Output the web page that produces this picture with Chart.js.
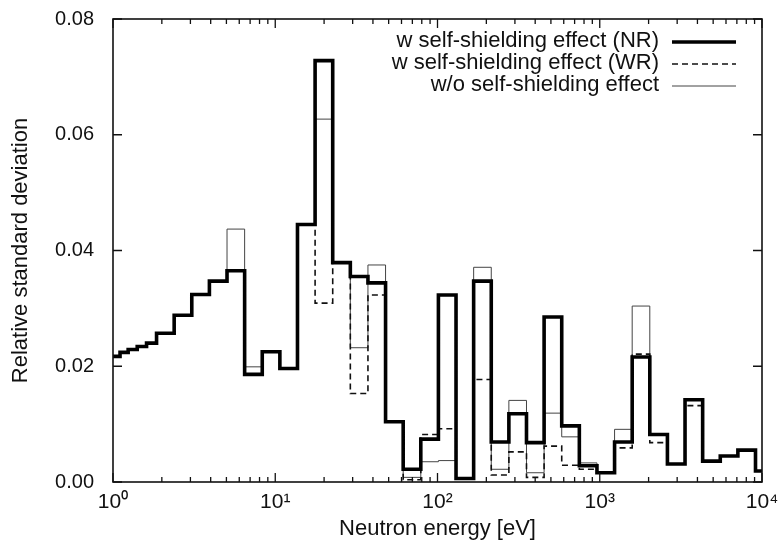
<!DOCTYPE html>
<html>
<head>
<meta charset="utf-8">
<script src="https://cdn.jsdelivr.net/npm/chart.js@4.4.1/dist/chart.umd.min.js"></script>
<style>
  html, body { margin: 0; padding: 0; background: #fff; }
  #wrap { position: relative; width: 778px; height: 549px; }
</style>
</head>
<body>
<div id="wrap"><canvas id="c"></canvas></div>
<script>
// Group boundaries (eV): left edge of each bin, plus the final right edge
const energyEdges = [1.0, 1.105, 1.24, 1.41, 1.61, 1.8554, 2.3824, 3.059, 3.9279, 5.0435,
  6.476, 8.3153, 10.677, 13.71, 17.603, 22.603, 29.023, 37.267, 47.851, 61.442,
  78.893, 101.3, 130.07, 167.02, 214.45, 275.36, 353.58, 454.0, 582.95, 748.52,
  961.12, 1234.1, 1584.6, 2034.7, 2612.6, 3354.6, 4307.4, 5530.8, 7101.7, 9118.8, 10000];

// Relative standard deviation per bin
const nrValues = [0.0217, 0.0224, 0.0229, 0.0234, 0.0240, 0.0257, 0.0288, 0.0324, 0.0347, 0.0365,
  0.0186, 0.0225, 0.0196, 0.0445, 0.0728, 0.0379, 0.0355, 0.0344, 0.0104, 0.0022,
  0.0074, 0.0323, 0.0006, 0.0347, 0.0069, 0.0118, 0.0068, 0.0285, 0.0097, 0.0028,
  0.0016, 0.0069, 0.0216, 0.0082, 0.0031, 0.0142, 0.0036, 0.0045, 0.0055, 0.0019];
const wrValues = [0.0217, 0.0224, 0.0229, 0.0234, 0.0240, 0.0257, 0.0288, 0.0324, 0.0347, 0.0365,
  0.0186, 0.0225, 0.0196, 0.0445, 0.0309, 0.0379, 0.0153, 0.0323, 0.0104, 0.0004,
  0.0082, 0.0092, 0.0005, 0.0177, 0.0012, 0.0052, 0.0008, 0.0062, 0.0029, 0.0022,
  0.0016, 0.0059, 0.0221, 0.0068, 0.0031, 0.0132, 0.0035, 0.0045, 0.0055, 0.0019];
const woValues = [0.0217, 0.0224, 0.0229, 0.0234, 0.0240, 0.0257, 0.0288, 0.0324, 0.0347, 0.0437,
  0.0199, 0.0225, 0.0196, 0.0445, 0.0627, 0.0379, 0.0232, 0.0375, 0.0104, 0.0008,
  0.0035, 0.0037, 0.0006, 0.0371, 0.0022, 0.0141, 0.0016, 0.0119, 0.0078, 0.0033,
  0.0016, 0.0091, 0.0304, 0.0082, 0.0031, 0.0144, 0.0036, 0.0045, 0.0055, 0.0019];

const seriesLabels = ['w self-shielding effect (NR)', 'w self-shielding effect (WR)', 'w/o self-shielding effect'];
const xTickValues = [1, 10, 100, 1000, 10000];
const yTickValues = [0, 0.02, 0.04, 0.06, 0.08];

const FONT = '"Liberation Sans", Arial, Helvetica, sans-serif';
const INK = '#111';

function toSteps(vals) {
  return energyEdges.map((e, i) => ({ x: e, y: vals[Math.min(i, vals.length - 1)] }));
}

const sup = ['\u2070', '\u00B9', '\u00B2', '\u00B3', '\u2074'];

const framePlugin = {
  id: 'frame',
  afterDatasetsDraw(chart) {
    const { ctx, chartArea: a, scales } = chart;
    const xs = scales.x, ys = scales.y;
    ctx.save();
    ctx.strokeStyle = INK;
    ctx.lineWidth = 1.6;
    ctx.strokeRect(a.left, a.top, a.right - a.left, a.bottom - a.top);
    ctx.lineWidth = 1.3;
    ctx.beginPath();
    for (let d = 0; d < xTickValues.length; d++) {
      const base = xTickValues[d];
      const px = xs.getPixelForValue(base);
      ctx.moveTo(px, a.bottom); ctx.lineTo(px, a.bottom - 9);
      ctx.moveTo(px, a.top); ctx.lineTo(px, a.top + 9);
      if (d < xTickValues.length - 1) {
        for (let m = 2; m <= 9; m++) {
          const p = xs.getPixelForValue(base * m);
          ctx.moveTo(p, a.bottom); ctx.lineTo(p, a.bottom - 5);
          ctx.moveTo(p, a.top); ctx.lineTo(p, a.top + 5);
        }
      }
    }
    yTickValues.forEach(v => {
      const py = ys.getPixelForValue(v);
      ctx.moveTo(a.left, py); ctx.lineTo(a.left + 9, py);
      ctx.moveTo(a.right, py); ctx.lineTo(a.right - 9, py);
    });
    ctx.stroke();
    ctx.restore();
  },
  afterDraw(chart) {
    const { ctx } = chart;
    const ds = chart.data.datasets;
    const rows = [41, 63, 85];
    ctx.save();
    ctx.font = '22px ' + FONT;
    ctx.textAlign = 'right';
    ctx.textBaseline = 'middle';
    ctx.fillStyle = INK;
    ds.forEach((d, i) => {
      const y = rows[i];
      ctx.fillText(d.label, 659, y);
      ctx.beginPath();
      ctx.strokeStyle = d.borderColor;
      ctx.lineWidth = d.borderWidth;
      ctx.setLineDash(d.borderDash || []);
      ctx.moveTo(672, y + 1);
      ctx.lineTo(736, y + 1);
      ctx.stroke();
    });
    ctx.restore();
  }
};

new Chart(document.getElementById('c'), {
  type: 'line',
  data: {
    datasets: [
      { label: seriesLabels[0], data: toSteps(nrValues), stepped: true, borderColor: '#000', borderWidth: 3.6, pointRadius: 0, fill: false },
      { label: seriesLabels[1], data: toSteps(wrValues), stepped: true, borderColor: '#111', borderWidth: 1.6, borderDash: [6, 4], pointRadius: 0, fill: false },
      { label: seriesLabels[2], data: toSteps(woValues), stepped: true, borderColor: '#444', borderWidth: 1, pointRadius: 0, fill: false }
    ]
  },
  options: {
    responsive: true,
    maintainAspectRatio: false,
    animation: false,
    layout: { padding: { left: 0, right: 16, top: 19, bottom: 0 } },
    plugins: { legend: { display: false }, tooltip: { enabled: false } },
    scales: {
      x: {
        type: 'logarithmic',
        min: 1, max: 10000,
        grid: { display: false, drawTicks: false },
        border: { display: false },
        afterBuildTicks: (s) => { s.ticks = xTickValues.map(v => ({ value: v })); },
        afterFit: (s) => { s.height = 67; s.paddingLeft = 0; s.paddingRight = 0; },
        ticks: {
          autoSkip: false, maxRotation: 0, padding: 8,
          color: INK, font: { family: FONT, size: 21 },
          callback: (v) => '10' + sup[Math.round(Math.log10(v))]
        },
        title: { display: true, text: 'Neutron energy [eV]', color: INK, font: { family: FONT, size: 22 }, padding: { top: 0, bottom: 7 } }
      },
      y: {
        min: 0, max: 0.08,
        grid: { display: false, drawTicks: false },
        border: { display: false },
        afterBuildTicks: (s) => { s.ticks = yTickValues.map(v => ({ value: v })); },
        afterFit: (s) => { s.width = 113; s.paddingTop = 0; s.paddingBottom = 0; },
        ticks: {
          padding: 19, color: INK, font: { family: FONT, size: 20 },
          callback: (v) => v.toFixed(2)
        },
        title: { display: true, text: 'Relative standard deviation', color: INK, font: { family: FONT, size: 22 }, padding: { top: 8, bottom: 0 } }
      }
    }
  },
  plugins: [framePlugin]
});
</script>
</body>
</html>
